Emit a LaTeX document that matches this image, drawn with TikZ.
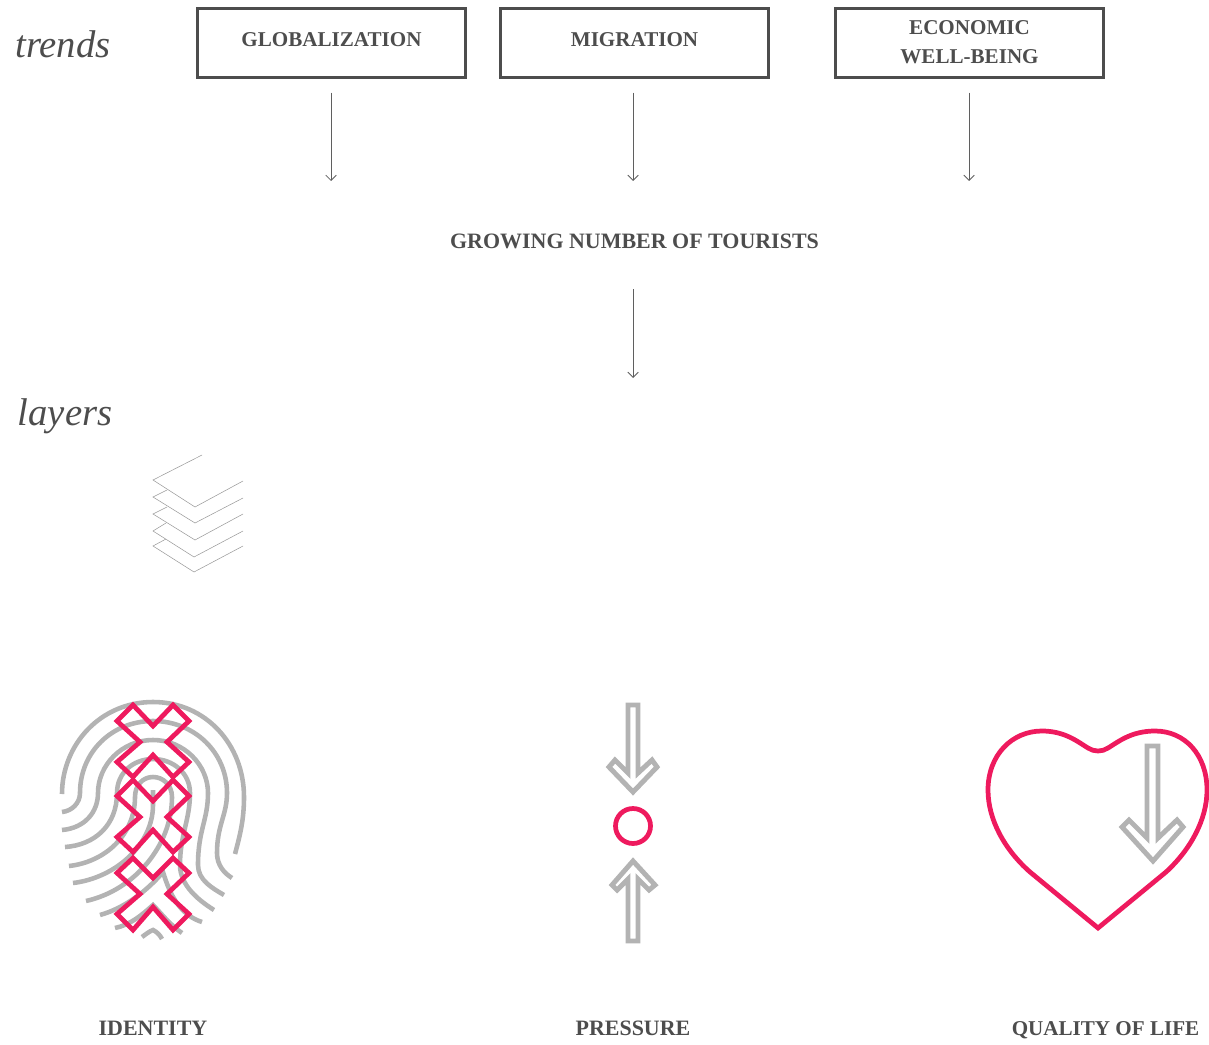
\documentclass[tikz,border=0pt]{standalone}
\usepackage{fontspec}
\setmainfont{Liberation Serif}
\usetikzlibrary{arrows.meta}
\definecolor{inkgrey}{HTML}{4D4D4D}
\definecolor{ridgegrey}{HTML}{B3B3B3}
\definecolor{hotpink}{HTML}{EE1A5E}

\begin{document}
\begin{tikzpicture}[x=0.02cm,y=0.02cm]
\tikzstyle{every node}+=[inner sep=0pt]
\tikzstyle{caption}=[text=inkgrey,font=\fontsize{12}{16.5}\selectfont\bfseries,align=center]
\tikzstyle{widecaption}=[caption,font=\fontsize{12.5}{16.5}\selectfont\bfseries]
\tikzstyle{boxnode}=[caption,draw=inkgrey,line width=2.2pt,minimum width=5.36cm,minimum height=1.38cm]
\tikzstyle{sidenote}=[text=inkgrey,font=\fontsize{22}{26}\selectfont\itshape]
\tikzstyle{thinarrow}=[draw=inkgrey!90,line width=0.5pt,-{Straight Barb[length=3pt,width=6pt]}]
\tikzstyle{ridge}=[draw=ridgegrey,line width=2.6pt]
\tikzstyle{pinkline}=[draw=hotpink,line width=2.7pt,line join=miter]
\tikzstyle{hollowarrow}=[draw=ridgegrey,line width=2.8pt,line join=miter]
\tikzstyle{sheet}=[draw=black!40,line width=0.3pt]
\useasboundingbox (0,0) rectangle (1209,-1044);
\node [sidenote] (trends) at (63,-44) {trends};
\node [sidenote] (layers) at (65,-416) {layers};
\node [boxnode,text depth=4.4pt] (globalization) at (331.5,-43) {GLOBALIZATION};
\node [boxnode,text depth=4.4pt] (migration) at (634.5,-43) {MIGRATION};
\node [boxnode,text depth=1pt] (economic) at (969.5,-43) {ECONOMIC\\WELL-BEING};
\node [widecaption] (tourists) at (634.5,-241) {GROWING NUMBER OF TOURISTS};
\node [widecaption] (identity) at (153,-1028) {IDENTITY};
\node [widecaption] (pressure) at (633,-1028) {PRESSURE};
\node [caption] (quality) at (1105.5,-1030) {QUALITY OF LIFE};
\coordinate (globend) at (331,-181);
\coordinate (migend) at (633,-181);
\coordinate (ecoend) at (969,-181);
\coordinate (layersend) at (633,-378);
\draw [thinarrow,shorten <=7.5pt] (globalization.south -| globend) -- (globend);
\draw [thinarrow,shorten <=7.5pt] (migration.south -| migend) -- (migend);
\draw [thinarrow,shorten <=7.5pt] (economic.south -| ecoend) -- (ecoend);
\draw [thinarrow,shorten <=23pt] (tourists.south -| layersend) -- (layersend);
% sheets
\draw [sheet] (202,-455) -- (153,-480) -- (195,-507) -- (243,-481);
\draw [sheet] (167,-490) -- (153,-497) -- (195,-523) -- (243,-498);
\draw [sheet] (167,-507) -- (153,-514) -- (195,-540) -- (243,-514);
\draw [sheet] (166,-523) -- (153,-531) -- (194,-557) -- (243,-531);
\draw [sheet] (166,-539) -- (153,-546) -- (194,-572) -- (243,-546);
% fingerprint
\draw [ridge] (62,-794) .. controls (62,-745) and (100,-702) .. (153,-702) .. controls (206,-702) and (244,-745) .. (244,-797) .. controls (244,-820) and (240,-835) .. (235,-854);
\draw [ridge] (62,-812) .. controls (72,-811) and (80,-803) .. (80,-793) .. controls (80,-752) and (112,-721) .. (153,-721) .. controls (194,-721) and (227,-752) .. (227,-793) .. controls (227,-815) and (217,-825) .. (217,-853) .. controls (217,-865) and (224,-873) .. (232,-878);
\draw [ridge] (62,-830) .. controls (85,-828) and (98,-812) .. (98,-793) .. controls (98,-765) and (122,-740) .. (153,-740) .. controls (184,-740) and (208,-765) .. (208,-793) .. controls (208,-820) and (198,-830) .. (198,-865) .. controls (198,-880) and (212,-888) .. (224,-895);
\draw [ridge] (65,-847) .. controls (95,-845) and (117,-825) .. (117,-793) .. controls (117,-773) and (133,-759) .. (153,-759) .. controls (173,-759) and (190,-773) .. (190,-793) .. controls (190,-820) and (180,-835) .. (180,-865) .. controls (180,-885) and (198,-900) .. (214,-910);
\draw [ridge] (69,-866) .. controls (105,-862) and (135,-835) .. (135,-797) .. controls (135,-785) and (143,-777) .. (153,-777) .. controls (163,-777) and (172,-785) .. (172,-797) .. controls (172,-845) and (135,-890) .. (86,-901);
\draw [ridge] (153,-790) -- (153,-805) .. controls (153,-845) and (115,-878) .. (73,-883);
\draw [ridge] (100,-915) .. controls (125,-908) and (148,-890) .. (163,-872) .. controls (170,-895) and (180,-915) .. (202,-922);
\draw [ridge] (115,-928) .. controls (130,-925) and (142,-915) .. (153,-905) .. controls (160,-912) and (170,-925) .. (182,-933);
\draw [ridge] (142,-937) .. controls (146,-934) and (150,-931) .. (153,-930) .. controls (157,-932) and (160,-935) .. (162,-939);
% crosses
\draw [pinkline] (133,-705) -- (153,-726) -- (173,-705) -- (189,-721) -- (167,-742) -- (189,-762) -- (173,-777) -- (153,-755) -- (133,-777) -- (117,-762) -- (140,-742) -- (117,-721) -- cycle;
\draw [pinkline] (133,-780) -- (153,-801) -- (173,-780) -- (189,-796) -- (167,-817) -- (189,-837) -- (173,-852) -- (153,-830) -- (133,-852) -- (117,-837) -- (140,-817) -- (117,-796) -- cycle;
\draw [pinkline] (133,-858) -- (153,-878) -- (173,-858) -- (189,-873) -- (167,-894) -- (189,-914) -- (173,-930) -- (153,-907) -- (133,-930) -- (117,-914) -- (140,-894) -- (117,-873) -- cycle;
% pressure
\draw [hollowarrow] (628,-705) -- (638,-705) -- (638,-773) -- (652,-760) -- (657,-767) -- (633,-792) -- (609,-767) -- (615,-760) -- (628,-773) -- cycle;
\draw [hollowarrow] (633,-861) -- (655,-885) -- (649,-890) -- (638,-879) -- (638,-941) -- (628,-941) -- (628,-879) -- (617,-890) -- (612,-885) -- cycle;
\draw [pinkline] (633,-826) circle (17.5);
% heart
\draw [hollowarrow] (1147,-746) -- (1158,-746) -- (1158,-838) -- (1177,-820) -- (1183,-827) -- (1153,-861) -- (1122,-827) -- (1129,-820) -- (1147,-838) -- cycle;
\draw [pinkline] (1098,-928) -- (1030,-872) .. controls (1005,-850) and (988,-820) .. (988,-790) .. controls (988,-755) and (1012,-731) .. (1042,-731) .. controls (1065,-731) and (1078,-742) .. (1088,-748) .. controls (1094,-752) and (1102,-752) .. (1108,-748) .. controls (1118,-742) and (1131,-731) .. (1155,-731) .. controls (1185,-731) and (1207,-755) .. (1207,-790) .. controls (1207,-820) and (1190,-850) .. (1166,-872) -- cycle;
\end{tikzpicture}
\end{document}
